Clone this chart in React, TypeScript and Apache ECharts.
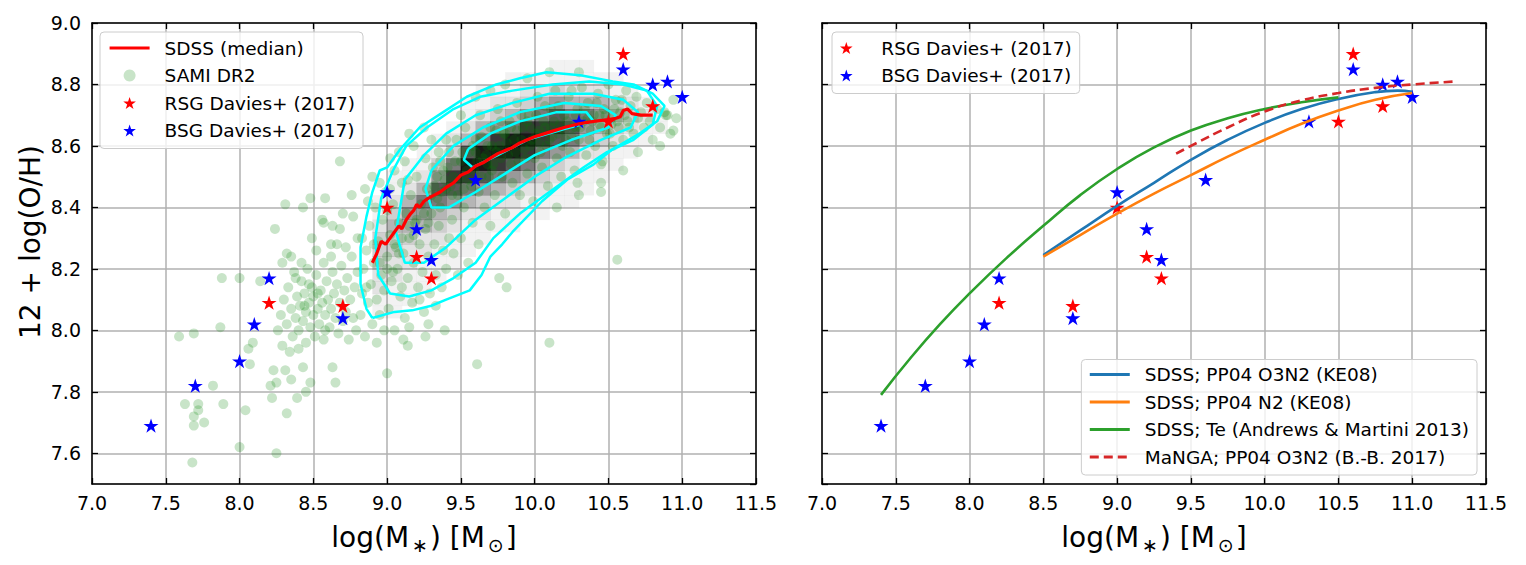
import React, { useEffect, useRef } from "react";
import * as echarts from "echarts";

const FONT = "DejaVu Sans";
const STAR =
  "path://M0,-10L2.245,-3.09L9.511,-3.09L3.633,1.18L5.878,8.09L0,3.82L-5.878,8.09L-3.633,1.18L-9.511,-3.09L-2.245,-3.09Z";

// Davies+ (2017) supergiant stars
const rsgStars: number[][] = [
  [8.2, 8.09], [8.7, 8.08], [9.0, 8.40], [9.2, 8.24], [9.3, 8.17],
  [10.5, 8.68], [10.6, 8.90], [10.8, 8.73],
];
const bsgStars: number[][] = [
  [7.4, 7.69], [7.7, 7.82], [8.0, 7.90], [8.1, 8.02], [8.2, 8.17],
  [8.7, 8.04], [9.0, 8.45], [9.2, 8.33], [9.3, 8.23], [9.6, 8.49],
  [10.3, 8.68], [10.6, 8.85], [10.8, 8.80], [10.9, 8.81], [11.0, 8.76],
];

// SDSS running median
const sdssMedian: number[][] = [
  [8.90, 8.22], [8.93, 8.25], [8.96, 8.29], [8.99, 8.28], [9.02, 8.30],
  [9.05, 8.32], [9.08, 8.34], [9.10, 8.33], [9.13, 8.36], [9.16, 8.38],
  [9.18, 8.39], [9.20, 8.41], [9.22, 8.40], [9.25, 8.42], [9.28, 8.43],
  [9.32, 8.44], [9.36, 8.45], [9.40, 8.465], [9.45, 8.48], [9.50, 8.505],
  [9.55, 8.515], [9.60, 8.535], [9.65, 8.545], [9.70, 8.56], [9.75, 8.575],
  [9.80, 8.585], [9.85, 8.595], [9.90, 8.61], [9.95, 8.62], [10.00, 8.63],
  [10.10, 8.645], [10.20, 8.66], [10.30, 8.672], [10.40, 8.68], [10.50, 8.686],
  [10.55, 8.69], [10.58, 8.695], [10.60, 8.715], [10.63, 8.72], [10.66, 8.705],
  [10.72, 8.70], [10.80, 8.70],
];

// SAMI DR2 galaxies
const samiPoints: number[][] = [
  [7.59, 7.98], [7.69, 7.99], [7.87, 8.01], [7.88, 8.17], [8.00, 8.17], [8.14, 8.16],
  [8.06, 7.94], [8.09, 7.96], [8.07, 7.89], [8.23, 7.87], [8.31, 7.87], [7.82, 7.82],
  [8.21, 7.82], [8.25, 7.83], [8.35, 7.84], [8.48, 7.83], [8.43, 7.88], [8.63, 7.88],
  [8.65, 7.83], [8.22, 7.78], [8.39, 7.78], [8.45, 7.80], [7.63, 7.76], [7.72, 7.76],
  [7.89, 7.76], [7.69, 7.72], [7.72, 7.74], [7.76, 7.70], [7.69, 7.69], [8.04, 7.74],
  [8.32, 7.73], [8.00, 7.62], [8.25, 7.60], [7.68, 7.57], [9.00, 7.86], [9.11, 7.97],
  [9.14, 7.95], [9.26, 7.98], [9.39, 8.00],
  [8.68, 8.55], [8.31, 8.41], [8.43, 8.40], [8.48, 8.43], [8.58, 8.43], [8.24, 8.33],
  [8.57, 8.35], [8.49, 8.30], [8.32, 8.25], [8.29, 8.22], [8.76, 8.44], [8.85, 8.46],
  [9.02, 8.56], [9.15, 8.64], [8.70, 8.38], [8.62, 8.28], [8.56, 8.36], [8.63, 8.34],
  [8.77, 8.37],
  [8.28, 8.05], [8.30, 8.10], [8.32, 8.02], [8.33, 8.14], [8.35, 8.07], [8.36, 7.98],
  [8.37, 8.19], [8.38, 8.04], [8.39, 8.11], [8.40, 8.00], [8.41, 8.08], [8.42, 8.16],
  [8.43, 8.03], [8.44, 8.12], [8.45, 7.96], [8.45, 8.06], [8.46, 8.20], [8.47, 8.09],
  [8.48, 8.01], [8.49, 8.14], [8.50, 8.05], [8.50, 8.11], [8.51, 7.98], [8.52, 8.18],
  [8.53, 8.07], [8.54, 8.02], [8.55, 8.13], [8.56, 8.09], [8.57, 8.22], [8.57, 7.97],
  [8.58, 8.05], [8.59, 8.16], [8.60, 8.10], [8.61, 8.01], [8.62, 8.07], [8.63, 8.19],
  [8.64, 8.12], [8.65, 8.04], [8.66, 8.15], [8.67, 7.99], [8.68, 8.09], [8.69, 8.21],
  [8.70, 8.03], [8.71, 8.13], [8.72, 8.06], [8.73, 8.17], [8.74, 7.97], [8.75, 8.10],
  [8.76, 8.24], [8.77, 8.04], [8.78, 8.14], [8.79, 8.00], [8.80, 8.19], [8.26, 8.00],
  [8.29, 7.95], [8.34, 7.93], [8.40, 7.94], [8.47, 8.15], [8.53, 8.12], [8.44, 8.08],
  [8.58, 8.00], [8.38, 8.17], [8.62, 8.24], [8.66, 8.28], [8.52, 8.26], [8.72, 8.27],
  [8.80, 8.30], [8.42, 8.22], [8.35, 8.24], [8.68, 8.33],
  [8.82, 8.05], [8.83, 8.12], [8.84, 8.20], [8.85, 7.98], [8.86, 8.26], [8.87, 8.09],
  [8.88, 8.34], [8.89, 8.15], [8.90, 8.02], [8.91, 8.22], [8.92, 8.40], [8.93, 8.10],
  [8.94, 8.29], [8.95, 8.05], [8.96, 8.18], [8.97, 8.36], [8.98, 8.13], [8.99, 8.45],
  [9.00, 8.24], [9.01, 8.07], [9.02, 8.31], [9.03, 8.16], [9.04, 8.41], [9.05, 8.00],
  [9.06, 8.27], [9.07, 8.20], [9.08, 8.35], [9.09, 8.11], [9.10, 8.48], [9.11, 8.25],
  [9.12, 8.04], [9.13, 8.38], [9.14, 8.17], [9.15, 8.30], [9.16, 8.44], [9.17, 8.09],
  [9.18, 8.22], [9.19, 8.35], [9.20, 8.50], [9.21, 8.14], [9.22, 8.28], [9.23, 8.41],
  [9.24, 8.19], [9.25, 8.06], [9.26, 8.33], [9.27, 8.46], [9.28, 8.24], [9.29, 8.12],
  [9.30, 8.38], [9.31, 8.53], [9.32, 8.28], [9.33, 8.18], [9.34, 8.43], [9.35, 8.34],
  [8.83, 8.30], [8.87, 8.42], [8.90, 8.50], [8.95, 8.48], [9.00, 8.39], [9.05, 8.52],
  [9.08, 8.58], [9.12, 8.55], [9.18, 8.60], [9.22, 8.10], [9.28, 8.02], [9.33, 8.08],
  [9.37, 8.14], [9.40, 8.20], [9.38, 8.26], [9.42, 8.30], [8.93, 7.96], [8.98, 8.00],
  [9.04, 8.19], [9.10, 8.14], [9.15, 8.01], [8.86, 8.14], [8.91, 8.28], [9.02, 8.46],
  [9.14, 8.49], [9.26, 8.56],
  [9.36, 8.40], [9.38, 8.52], [9.40, 8.46], [9.42, 8.58], [9.44, 8.36], [9.45, 8.50],
  [9.47, 8.62], [9.48, 8.44], [9.50, 8.55], [9.52, 8.40], [9.53, 8.66], [9.55, 8.49],
  [9.56, 8.58], [9.58, 8.35], [9.59, 8.52], [9.60, 8.62], [9.62, 8.45], [9.63, 8.70],
  [9.65, 8.56], [9.66, 8.40], [9.68, 8.60], [9.69, 8.50], [9.70, 8.66], [9.72, 8.54],
  [9.73, 8.44], [9.75, 8.72], [9.76, 8.60], [9.78, 8.50], [9.79, 8.64], [9.80, 8.38],
  [9.82, 8.57], [9.83, 8.68], [9.85, 8.48], [9.86, 8.62], [9.88, 8.74], [9.89, 8.55],
  [9.90, 8.44], [9.92, 8.66], [9.93, 8.59], [9.95, 8.51], [9.96, 8.70], [9.98, 8.62],
  [9.99, 8.42], [10.00, 8.56], [10.02, 8.76], [10.03, 8.65], [10.05, 8.53], [10.06, 8.68],
  [10.08, 8.60], [10.09, 8.47], [10.11, 8.72], [10.12, 8.63], [10.14, 8.78], [10.15, 8.56],
  [10.17, 8.67], [10.18, 8.50], [10.20, 8.70], [10.21, 8.62], [10.23, 8.76], [10.24, 8.58],
  [10.26, 8.66], [10.27, 8.52], [10.29, 8.72], [10.30, 8.62], [10.32, 8.79], [10.33, 8.68],
  [10.35, 8.57], [10.36, 8.74], [10.38, 8.65], [10.40, 8.70], [10.41, 8.60], [10.43, 8.77],
  [10.44, 8.67], [10.46, 8.55], [10.47, 8.72], [10.49, 8.64], [10.50, 8.80], [10.52, 8.69],
  [10.53, 8.60], [10.55, 8.75], [10.57, 8.66], [10.58, 8.71], [10.60, 8.62], [10.62, 8.78],
  [10.63, 8.68], [10.65, 8.73], [10.67, 8.64], [10.69, 8.76], [10.70, 8.69], [10.72, 8.71],
  [10.74, 8.66], [10.76, 8.74], [10.78, 8.68], [10.80, 8.62], [10.83, 8.72], [10.85, 8.66],
  [10.88, 8.71], [10.90, 8.70], [10.92, 8.64], [10.94, 8.75], [10.96, 8.69], [10.85, 8.60],
  [10.70, 8.58], [10.60, 8.52], [10.45, 8.48], [10.30, 8.44], [10.15, 8.40], [10.45, 8.45],
  [10.56, 8.23], [10.10, 7.96], [9.61, 7.89], [9.81, 8.14], [9.76, 8.17], [9.50, 8.30],
  [9.55, 8.22], [9.62, 8.28], [9.70, 8.34], [9.45, 8.25], [9.48, 8.18], [9.40, 8.62],
  [9.50, 8.70], [9.60, 8.76], [9.70, 8.78], [9.80, 8.80], [9.95, 8.82], [10.10, 8.84],
  [10.30, 8.84], [9.35, 8.58], [9.30, 8.62], [9.25, 8.66], [10.25, 8.78], [10.29, 8.48],
  [10.45, 8.54], [10.94, 8.65], [10.89, 8.70],
  [9.32, 8.47], [9.34, 8.50], [9.37, 8.45], [9.39, 8.49], [9.41, 8.53], [9.43, 8.47],
  [9.46, 8.55], [9.49, 8.49], [9.51, 8.58], [9.54, 8.52], [9.57, 8.47], [9.58, 8.60],
  [9.61, 8.55], [9.64, 8.50], [9.64, 8.63], [9.67, 8.57], [9.71, 8.60], [9.71, 8.52],
  [9.74, 8.65], [9.77, 8.56], [9.77, 8.68], [9.81, 8.61], [9.84, 8.54], [9.84, 8.66],
  [9.87, 8.58], [9.91, 8.62], [9.91, 8.70], [9.94, 8.56], [9.97, 8.66], [9.97, 8.60],
  [10.01, 8.64], [10.01, 8.70], [10.04, 8.58], [10.07, 8.66], [10.07, 8.73], [10.10, 8.62],
  [10.13, 8.68], [10.16, 8.64], [10.16, 8.73], [10.19, 8.60], [10.22, 8.68], [10.25, 8.63],
  [10.28, 8.70], [10.31, 8.66], [10.34, 8.72], [10.37, 8.62], [10.39, 8.68], [10.42, 8.74],
  [10.45, 8.66], [10.48, 8.70], [10.51, 8.64], [10.54, 8.72], [10.56, 8.68], [10.59, 8.75],
  [10.61, 8.70], [10.64, 8.66], [9.36, 8.55], [9.44, 8.44], [9.52, 8.46], [9.60, 8.58],
  [9.68, 8.54], [9.74, 8.58], [9.80, 8.64], [9.88, 8.65], [9.95, 8.68], [10.03, 8.61],
  [10.11, 8.66], [10.20, 8.65], [10.28, 8.66], [10.36, 8.69], [10.44, 8.70], [10.52, 8.67],
  [9.30, 8.44], [9.25, 8.38], [9.20, 8.36], [9.15, 8.34], [9.10, 8.30], [9.05, 8.28],
  [9.00, 8.20], [8.95, 8.22], [9.08, 8.25], [9.18, 8.31], [9.28, 8.35],
];

// SDSS density histogram (rows from y=8.86 down to 8.02, columns from x=8.95 to 10.85)
const HIST_X0 = 8.95;
const HIST_Y0 = 8.86;
const BIN_W = 0.1;
const BIN_H = 0.04;
const densityRows: string[] = [
  "00000000000011100000",
  "00000000011111111000",
  "00000001112232221100",
  "00000011223454443210",
  "00000012345676654321",
  "00000124568887543211",
  "00001246899876432110",
  "00011379998654221100",
  "00113699876432111000",
  "01125887654321110000",
  "01247765432211100000",
  "12466543221111000000",
  "13554322111100000000",
  "24443211110000000000",
  "33322111000000000000",
  "33221110000000000000",
  "32211100000000000000",
  "22111000000000000000",
  "21110000000000000000",
  "11100000000000000000",
  "11000000000000000000",
  "00000000000000000000",
];
const GRAY_ALPHA = [0, 0.05, 0.11, 0.19, 0.29, 0.4, 0.52, 0.65, 0.78, 0.9];

// SDSS contours
const contour1: number[][] = [
  [8.90, 8.04], [9.05, 8.06], [9.17, 8.065], [9.30, 8.08], [9.40, 8.10], [9.56, 8.13],
  [9.64, 8.18], [9.70, 8.24], [9.78, 8.28], [9.85, 8.32], [10.05, 8.42], [10.22, 8.49],
  [10.40, 8.54], [10.53, 8.59], [10.71, 8.64], [10.83, 8.68], [10.88, 8.73], [10.80, 8.77],
  [10.67, 8.80], [10.53, 8.81], [10.31, 8.83], [10.08, 8.84], [9.90, 8.82], [9.74, 8.80],
  [9.54, 8.76], [9.38, 8.71], [9.22, 8.66], [9.09, 8.59], [9.00, 8.53], [8.95, 8.52],
  [8.90, 8.45], [8.86, 8.37], [8.82, 8.27], [8.82, 8.15], [8.86, 8.07], [8.90, 8.04],
];
const contour2: number[][] = [
  [9.04, 8.52], [9.13, 8.60], [9.27, 8.66], [9.45, 8.72], [9.63, 8.76], [9.85, 8.78],
  [10.12, 8.80], [10.37, 8.81], [10.60, 8.80], [10.76, 8.78], [10.83, 8.73], [10.80, 8.67],
  [10.67, 8.62], [10.49, 8.58], [10.33, 8.53], [10.10, 8.45], [9.90, 8.38], [9.72, 8.30],
  [9.60, 8.22], [9.45, 8.17], [9.30, 8.13], [9.15, 8.11], [9.02, 8.12], [8.94, 8.18],
  [8.92, 8.30], [8.96, 8.43], [9.04, 8.52],
];
const contour3: number[][] = [
  [9.12, 8.49], [9.25, 8.57], [9.40, 8.64], [9.60, 8.70], [9.85, 8.74], [10.10, 8.77],
  [10.40, 8.77], [10.60, 8.75], [10.70, 8.71], [10.65, 8.66], [10.45, 8.62], [10.20, 8.56],
  [10.00, 8.50], [9.80, 8.43], [9.60, 8.36], [9.40, 8.27], [9.25, 8.22], [9.12, 8.22],
  [9.06, 8.32], [9.12, 8.49],
];
const contour4: number[][] = [
  [9.30, 8.52], [9.45, 8.60], [9.65, 8.66], [9.90, 8.71], [10.20, 8.74], [10.45, 8.73],
  [10.55, 8.70], [10.50, 8.66], [10.25, 8.62], [10.00, 8.57], [9.80, 8.51], [9.60, 8.45],
  [9.42, 8.40], [9.30, 8.40], [9.26, 8.46], [9.30, 8.52],
];
const contour5: number[][] = [
  [9.55, 8.59], [9.70, 8.64], [9.90, 8.68], [10.15, 8.71], [10.35, 8.71], [10.40, 8.68],
  [10.20, 8.655], [9.95, 8.62], [9.75, 8.57], [9.58, 8.53], [9.52, 8.555], [9.55, 8.59],
];

// Right panel relations
const ppO3N2: number[][] = [
  [8.5, 8.245], [8.75, 8.325], [9.0, 8.405], [9.25, 8.48], [9.5, 8.555], [9.75, 8.62],
  [10.0, 8.675], [10.25, 8.72], [10.5, 8.753], [10.75, 8.775], [10.9, 8.78], [11.0, 8.776],
];
const ppN2: number[][] = [
  [8.5, 8.24], [8.75, 8.31], [9.0, 8.38], [9.25, 8.445], [9.5, 8.505], [9.75, 8.565],
  [10.0, 8.62], [10.25, 8.672], [10.5, 8.715], [10.75, 8.75], [11.0, 8.772],
];
const teAM13: number[][] = [
  [7.4, 7.79], [7.6, 7.91], [7.8, 8.02], [8.0, 8.12], [8.25, 8.235], [8.5, 8.34],
  [8.75, 8.44], [9.0, 8.525], [9.25, 8.595], [9.5, 8.65], [9.75, 8.69], [10.0, 8.72],
  [10.25, 8.742], [10.5, 8.758],
];
const mangaO3N2: number[][] = [
  [9.4, 8.575], [9.5, 8.60], [9.75, 8.66], [10.0, 8.712], [10.25, 8.748], [10.5, 8.772],
  [10.75, 8.789], [11.0, 8.80], [11.3, 8.81],
];

const NAMES = {
  median: "SDSS (median)",
  sami: "SAMI DR2",
  rsg: "RSG Davies+ (2017)",
  bsg: "BSG Davies+ (2017)",
  o3n2: "SDSS; PP04 O3N2 (KE08)",
  n2: "SDSS; PP04 N2 (KE08)",
  te: "SDSS; Te (Andrews & Martini 2013)",
  manga: "MaNGA; PP04 O3N2 (B.-B. 2017)",
};

const fmt = (v: number) => v.toFixed(1);

function xAxisDef(gridIndex: number, position: string, main: boolean) {
  return {
    type: "value",
    gridIndex,
    position,
    min: 7,
    max: 11.5,
    interval: 0.5,
    axisLine: { show: true, onZero: false, lineStyle: { color: "#000", width: 1.5 } },
    axisTick: { show: true, inside: true, length: 6, lineStyle: { color: "#000", width: 1.3 } },
    axisLabel: { show: main, fontSize: 19, color: "#000", margin: 9, fontFamily: FONT, formatter: fmt },
    splitLine: { show: main, lineStyle: { color: "#b0b0b0", width: 1.5 } },
  };
}

function yAxisDef(gridIndex: number, position: string, labels: boolean, grid: boolean) {
  return {
    type: "value",
    gridIndex,
    position,
    min: 7.5,
    max: 9.0,
    minInterval: 0.2,
    maxInterval: 0.2,
    axisLine: { show: true, onZero: false, lineStyle: { color: "#000", width: 1.5 } },
    axisTick: { show: true, inside: true, length: 6, lineStyle: { color: "#000", width: 1.3 } },
    axisLabel: {
      show: labels,
      showMinLabel: false,
      fontSize: 19,
      color: "#000",
      margin: 11,
      fontFamily: FONT,
      formatter: fmt,
    },
    splitLine: { show: grid, lineStyle: { color: "#b0b0b0", width: 1.5 } },
  };
}

function starSeries(name: string, data: number[][], color: string, axis: number, z: number) {
  return {
    type: "scatter",
    name,
    xAxisIndex: axis,
    yAxisIndex: axis,
    data,
    symbol: STAR,
    symbolKeepAspect: true,
    symbolSize: 15,
    itemStyle: { color, opacity: 1 },
    z,
    silent: true,
  };
}

function contourSeries(data: number[][]) {
  return {
    type: "line",
    xAxisIndex: 0,
    yAxisIndex: 0,
    data,
    showSymbol: false,
    symbol: "none",
    lineStyle: { color: "#00ffff", width: 2.5 },
    z: 3,
    silent: true,
  };
}

function lineSeries(name: string, data: number[][], color: string, dashed = false) {
  return {
    type: "line",
    name,
    xAxisIndex: 2,
    yAxisIndex: 2,
    data,
    smooth: 0.5,
    showSymbol: false,
    symbol: "none",
    lineStyle: { color, width: 2.6, type: dashed ? [9, 5] : "solid" },
    itemStyle: { color },
    z: 5,
    silent: true,
  };
}

const histCells: number[][] = [];
densityRows.forEach((row, r) => {
  row.split("").forEach((ch, c) => {
    const lv = Number(ch);
    if (lv > 0) histCells.push([HIST_X0 + c * BIN_W, HIST_Y0 - r * BIN_H, lv]);
  });
});

const legendText = { fontSize: 18.5, color: "#000", fontFamily: FONT, lineHeight: 20, padding: [0, 0, 0, 10] };
const legendBox = {
  orient: "vertical",
  backgroundColor: "rgba(255,255,255,0.8)",
  borderColor: "#cccccc",
  borderWidth: 1,
  borderRadius: 4,
  itemWidth: 40,
  itemHeight: 12,
  itemGap: 7.5,
  textStyle: legendText,
  selectedMode: false,
};
const lineItem = (name: string, width: number, dashed = false) => ({
  name,
  itemStyle: { opacity: 0 },
  lineStyle: { width, type: dashed ? [9, 5] : "solid" },
});

export default function App() {
  const ref = useRef<HTMLDivElement>(null);
  useEffect(() => {
    if (!ref.current) return;
    const chart = echarts.init(ref.current, null, { renderer: "svg" });
    const option: any = {
      animation: false,
      textStyle: { fontFamily: FONT },
      grid: [
        { left: 92, top: 23, width: 664, height: 461 },
        { left: 822, top: 23, width: 664, height: 461 },
      ],
      xAxis: [
        xAxisDef(0, "bottom", true),
        xAxisDef(0, "top", false),
        xAxisDef(1, "bottom", true),
        xAxisDef(1, "top", false),
      ],
      yAxis: [
        yAxisDef(0, "left", true, true),
        yAxisDef(0, "right", false, false),
        yAxisDef(1, "left", false, true),
        yAxisDef(1, "right", false, false),
      ],
      legend: [
        {
          ...legendBox,
          left: 100,
          top: 32,
          padding: [6, 8, 8, 8],
          data: [
            lineItem(NAMES.median, 3.2),
            { name: NAMES.sami, icon: "circle" },
            { name: NAMES.rsg, icon: STAR },
            { name: NAMES.bsg, icon: STAR },
          ],
        },
        {
          ...legendBox,
          left: 832,
          top: 32,
          padding: [6, 8, 8, 8],
          data: [
            { name: NAMES.rsg, icon: STAR },
            { name: NAMES.bsg, icon: STAR },
          ],
        },
        {
          ...legendBox,
          right: 49,
          bottom: 90,
          padding: [5, 8, 8, 7],
          data: [
            lineItem(NAMES.o3n2, 2.8),
            lineItem(NAMES.n2, 2.8),
            lineItem(NAMES.te, 2.8),
            lineItem(NAMES.manga, 2.8, true),
          ],
        },
      ],
      graphic: [
        {
          type: "text",
          x: 30,
          y: 242,
          rotation: Math.PI / 2,
          style: {
            text: "12 + log(O/H)",
            fontSize: 28,
            fontFamily: FONT,
            fill: "#000",
            align: "center",
            verticalAlign: "middle",
          },
        },
        ...[424, 1154].map((cx) => ({
          type: "text",
          x: cx,
          y: 537,
          style: {
            text: "{a|log(M}{s|\u2217}{a|) [M}{s|\u2299}{a|]}",
            align: "center",
            verticalAlign: "middle",
            fill: "#000",
            rich: {
              a: { fontSize: 28, fontFamily: FONT, lineHeight: 34, verticalAlign: "middle" },
              s: { fontSize: 19, fontFamily: FONT, lineHeight: 16, verticalAlign: "bottom", padding: [0, 2, 0, 3] },
            },
          },
        })),
      ],
      series: [
        {
          type: "custom",
          xAxisIndex: 0,
          yAxisIndex: 0,
          data: histCells,
          encode: { x: 0, y: 1 },
          z: 1,
          silent: true,
          clip: true,
          renderItem: (params: any, api: any) => {
            const x = api.value(0);
            const y = api.value(1);
            const lv = api.value(2);
            const p = api.coord([x - BIN_W / 2, y + BIN_H / 2]);
            const s = api.size([BIN_W, BIN_H]);
            return {
              type: "rect",
              shape: { x: p[0], y: p[1], width: s[0] + 0.4, height: s[1] + 0.4 },
              style: { fill: `rgba(0,0,0,${GRAY_ALPHA[lv]})` },
            };
          },
        },
        {
          type: "scatter",
          name: NAMES.sami,
          xAxisIndex: 0,
          yAxisIndex: 0,
          data: samiPoints,
          symbol: "circle",
          symbolSize: 10,
          itemStyle: { color: "rgba(0,128,0,0.27)" },
          z: 2,
          silent: true,
        },
        contourSeries(contour1),
        contourSeries(contour2),
        contourSeries(contour3),
        contourSeries(contour4),
        contourSeries(contour5),
        starSeries(NAMES.bsg, bsgStars, "#0000ff", 0, 4),
        {
          type: "line",
          name: NAMES.median,
          xAxisIndex: 0,
          yAxisIndex: 0,
          data: sdssMedian,
          showSymbol: false,
          symbol: "none",
          lineStyle: { color: "#ff0000", width: 3.2 },
          itemStyle: { color: "#ff0000" },
          z: 5,
          silent: true,
        },
        starSeries(NAMES.rsg, rsgStars, "#ff0000", 0, 6),
        starSeries(NAMES.rsg, rsgStars, "#ff0000", 2, 4),
        starSeries(NAMES.bsg, bsgStars, "#0000ff", 2, 4),
        lineSeries(NAMES.o3n2, ppO3N2, "#1f77b4"),
        lineSeries(NAMES.n2, ppN2, "#ff7f0e"),
        lineSeries(NAMES.te, teAM13, "#2ca02c"),
        lineSeries(NAMES.manga, mangaO3N2, "#d62728", true),
      ],
    };
    chart.setOption(option);
    return () => chart.dispose();
  }, []);
  return (
    <div
      ref={ref}
      style={{ position: "fixed", left: 0, top: 0, width: 1526, height: 565, background: "#fff" }}
    />
  );
}
